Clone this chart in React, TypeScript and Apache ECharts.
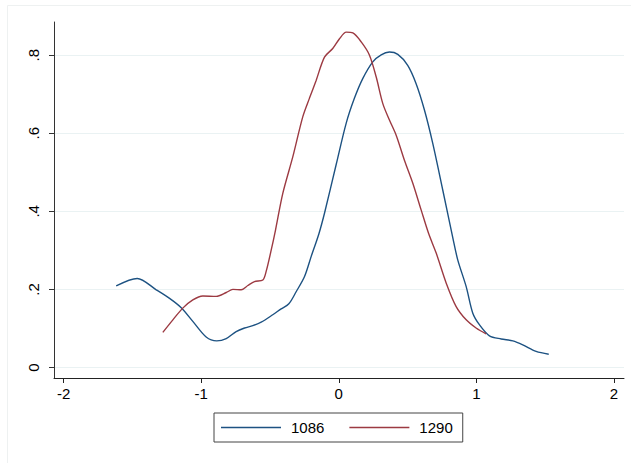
import React, { useEffect, useRef } from "react";
import * as echarts from "echarts";

const seriesNames = ["1086", "1290"];

const x1086 = [-1.618, -1.465, -1.327, -1.23, -1.145, -1.061, -0.964, -0.887, -0.818, -0.746, -0.685, -0.625, -0.564, -0.48, -0.419, -0.363, -0.31, -0.249, -0.201, -0.145, -0.104, -0.019, 0.054, 0.114, 0.174, 0.247, 0.308, 0.368, 0.429, 0.501, 0.562, 0.623, 0.683, 0.756, 0.83, 0.865, 0.926, 0.974, 1.023, 1.095, 1.18, 1.265, 1.337, 1.434, 1.526];
const y1086 = [0.209, 0.228, 0.199, 0.177, 0.153, 0.118, 0.078, 0.068, 0.074, 0.092, 0.101, 0.107, 0.116, 0.135, 0.15, 0.163, 0.194, 0.233, 0.284, 0.342, 0.395, 0.52, 0.626, 0.69, 0.74, 0.783, 0.801, 0.808, 0.802, 0.774, 0.727, 0.659, 0.574, 0.454, 0.33, 0.275, 0.207, 0.139, 0.109, 0.081, 0.073, 0.068, 0.058, 0.041, 0.034];

const x1290 = [-1.279, -1.206, -1.134, -1.061, -0.988, -0.891, -0.818, -0.77, -0.709, -0.661, -0.613, -0.552, -0.528, -0.491, -0.46, -0.407, -0.334, -0.262, -0.213, -0.164, -0.104, -0.044, 0.005, 0.054, 0.102, 0.163, 0.223, 0.272, 0.32, 0.368, 0.417, 0.477, 0.538, 0.599, 0.653, 0.708, 0.781, 0.853, 0.926, 0.998, 1.071];
const y1290 = [0.09, 0.122, 0.152, 0.173, 0.183, 0.182, 0.192, 0.2, 0.199, 0.21, 0.22, 0.224, 0.246, 0.301, 0.352, 0.446, 0.54, 0.642, 0.69, 0.736, 0.795, 0.817, 0.842, 0.859, 0.857, 0.834, 0.8, 0.744, 0.676, 0.634, 0.595, 0.531, 0.472, 0.403, 0.343, 0.293, 0.216, 0.156, 0.122, 0.101, 0.086];

const xTickValues = [-2, -1, 0, 1, 2];
const xTickLabels = ["-2", "-1", "0", "1", "2"];
const yTickValues = [0, 0.2, 0.4, 0.6, 0.8];
const yTickLabels = ["0", ".2", ".4", ".6", ".8"];

const colors = ["#1d5282", "#9c3a42"];

export default function App() {
  const ref = useRef<HTMLDivElement>(null);
  useEffect(() => {
    if (!ref.current) return;
    const chart = echarts.init(ref.current, null, { renderer: "svg" });
    const font = "Liberation Sans, Arial, Helvetica, sans-serif";
    const pair = (xs: number[], ys: number[]) => xs.map((x, i) => [x, ys[i]]);
    chart.setOption({
      animation: false,
      backgroundColor: "#ffffff",
      textStyle: { fontFamily: font },
      graphic: [
        {
          type: "rect",
          shape: { x: 7.5, y: 5.5, width: 640, height: 480 },
          style: { fill: "none", stroke: "#eef1f1", lineWidth: 1 },
          silent: true,
          z: -1,
        },
      ],
      grid: { left: 54, right: 7, top: 22, bottom: 85, containLabel: false },
      legend: {
        data: seriesNames,
        left: 214,
        top: 413,
        orient: "horizontal",
        icon: "rect",
        itemWidth: 60,
        itemHeight: 1.5,
        itemGap: 25,
        padding: [7, 10, 7, 7],
        borderColor: "#444",
        borderWidth: 1,
        textStyle: { fontSize: 15, color: "#000", fontFamily: font, padding: [0, 0, 0, 5] },
      },
      xAxis: {
        type: "value",
        min: -2.07,
        max: 2.073,
        axisLine: { show: true, onZero: false, lineStyle: { color: "#222", width: 1 } },
        axisTick: { show: true, length: 5, customValues: xTickValues, lineStyle: { color: "#222" } },
        axisLabel: {
          customValues: xTickValues,
          formatter: (v: number) => xTickLabels[xTickValues.indexOf(v)] ?? "",
          fontSize: 15,
          color: "#000",
          margin: 8,
          fontFamily: font,
        },
        splitLine: { show: false },
      },
      yAxis: {
        type: "value",
        min: -0.027,
        max: 0.885,
        axisLine: { show: true, onZero: false, lineStyle: { color: "#333", width: 1 } },
        axisTick: { show: true, length: 5, customValues: yTickValues, lineStyle: { color: "#333" } },
        axisLabel: {
          customValues: yTickValues,
          formatter: (v: number) => {
            const i = yTickValues.findIndex((t) => Math.abs(t - v) < 1e-9);
            return i >= 0 ? yTickLabels[i] : "";
          },
          rotate: 90,
          fontSize: 15,
          color: "#000",
          margin: 13,
          fontFamily: font,
        },
        splitLine: { show: true, lineStyle: { color: "#eaf2f3", width: 1 } },
      },
      series: [
        {
          name: seriesNames[0],
          type: "line",
          data: pair(x1086, y1086),
          smooth: 0.3,
          showSymbol: false,
          symbol: "none",
          lineStyle: { color: colors[0], width: 1.4 },
          itemStyle: { color: colors[0] },
        },
        {
          name: seriesNames[1],
          type: "line",
          data: pair(x1290, y1290),
          smooth: 0.3,
          showSymbol: false,
          symbol: "none",
          lineStyle: { color: colors[1], width: 1.4 },
          itemStyle: { color: colors[1] },
        },
      ],
    });
    return () => chart.dispose();
  }, []);
  return (
    <div
      ref={ref}
      style={{ position: "fixed", left: 0, top: 0, width: 631, height: 463 }}
    />
  );
}
